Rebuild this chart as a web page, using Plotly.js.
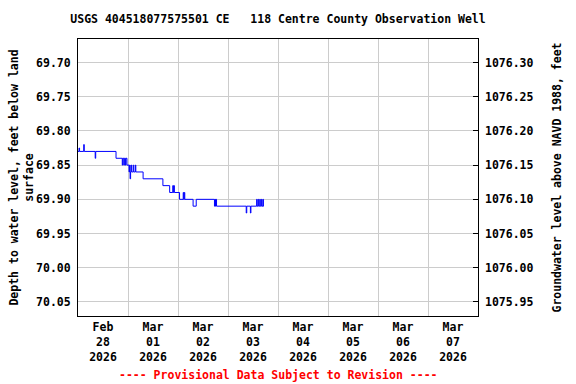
<!DOCTYPE html>
<html>
<head>
<meta charset="utf-8">
<script src="https://cdn.plot.ly/plotly-3.0.1.min.js"></script>
<style>html,body{margin:0;padding:0;background:#fff;}#chart{width:576px;height:384px;}</style>
</head>
<body>
<div id="chart"></div>
<script>
// Readings (time, depth to water level in feet below land surface)
const times = [
  "2026-02-28 00:00","2026-02-28 00:30","2026-02-28 00:45","2026-02-28 02:45","2026-02-28 03:00",
  "2026-02-28 08:15","2026-02-28 08:30","2026-02-28 18:15",
  "2026-02-28 21:15","2026-02-28 21:30","2026-02-28 22:00","2026-02-28 22:15","2026-02-28 22:45","2026-02-28 23:00","2026-02-28 23:30",
  "2026-03-01 00:30","2026-03-01 00:45","2026-03-01 01:00","2026-03-01 01:15","2026-03-01 01:30","2026-03-01 01:45",
  "2026-03-01 02:30","2026-03-01 02:45","2026-03-01 03:30","2026-03-01 03:45",
  "2026-03-01 07:15","2026-03-01 16:45","2026-03-01 20:00",
  "2026-03-01 21:30","2026-03-01 21:45","2026-03-01 22:00","2026-03-01 22:15",
  "2026-03-02 00:45","2026-03-02 02:30","2026-03-02 02:45","2026-03-02 03:00","2026-03-02 03:15",
  "2026-03-02 07:15","2026-03-02 08:45",
  "2026-03-02 17:30","2026-03-02 17:45","2026-03-02 18:00","2026-03-02 18:15","2026-03-02 18:30",
  "2026-03-03 08:45","2026-03-03 09:00","2026-03-03 10:45","2026-03-03 11:00",
  "2026-03-03 13:45","2026-03-03 14:00","2026-03-03 14:30","2026-03-03 14:45","2026-03-03 15:15","2026-03-03 15:30",
  "2026-03-03 16:00","2026-03-03 16:15","2026-03-03 16:45","2026-03-03 17:00","2026-03-03 17:15"
];
const depths = [
  69.83,69.825,69.83,69.82,69.83,
  69.84,69.83,69.84,
  69.85,69.84,69.85,69.84,69.85,69.84,69.85,
  69.86,69.85,69.87,69.86,69.85,69.86,
  69.85,69.86,69.85,69.86,
  69.87,69.88,69.89,
  69.88,69.89,69.88,69.89,
  69.90,69.89,69.90,69.89,69.90,
  69.91,69.90,
  69.91,69.90,69.91,69.90,69.91,
  69.92,69.91,69.92,69.91,
  69.90,69.91,69.90,69.91,69.90,69.91,
  69.90,69.91,69.90,69.91,69.91
];
const landSurfaceDatum = 1146.00; // elevation = datum - depth
const dayTickVals = ["2026-02-28 12:00","2026-03-01 12:00","2026-03-02 12:00","2026-03-03 12:00",
                     "2026-03-04 12:00","2026-03-05 12:00","2026-03-06 12:00","2026-03-07 12:00"];
const dayTickText = ["Feb<br>28<br>2026","Mar<br>01<br>2026","Mar<br>02<br>2026","Mar<br>03<br>2026",
                     "Mar<br>04<br>2026","Mar<br>05<br>2026","Mar<br>06<br>2026","Mar<br>07<br>2026"];
const depthTicks = [69.70,69.75,69.80,69.85,69.90,69.95,70.00,70.05];
const elevTicks = [1076.30,1076.25,1076.20,1076.15,1076.10,1076.05,1076.00,1075.95];

const depthRange = [70.0705, 69.6657];
const F = "'DejaVu Sans Mono', monospace";
const fnt = {family: F, size: 11.5, color: '#000', weight: 'bold'};

const traces = [
  {x: times, y: depths, type: 'scatter', mode: 'lines', line: {shape: 'hv', color: '#0000ff', width: 1}, hoverinfo: 'skip', showlegend: false},
  {x: times, y: depths.map(d => landSurfaceDatum - d), yaxis: 'y2', type: 'scatter', mode: 'lines',
   line: {width: 0, color: 'rgba(0,0,0,0)'}, hoverinfo: 'skip', showlegend: false}
];

const layout = {
  width: 576, height: 384,
  margin: {l: 78, r: 97.5, t: 39, b: 68, pad: 0},
  paper_bgcolor: '#fff', plot_bgcolor: '#fff',
  font: fnt,
  title: {text: 'USGS 404518077575501 CE   118 Centre County Observation Well', font: fnt,
          x: 0.5, xref: 'paper', y: 0.95, yref: 'container', xanchor: 'center', yanchor: 'middle'},
  xaxis: {
    type: 'date', range: ['2026-02-28 00:00', '2026-03-08 00:00'],
    tickmode: 'array', tickvals: dayTickVals, ticktext: dayTickText,
    showgrid: false, ticks: '', tickfont: fnt, zeroline: false,
    showline: true, mirror: true, linecolor: '#000', linewidth: 1,
    minor: {dtick: 86400000, tick0: '2026-02-28 00:00', showgrid: true, gridcolor: '#cccccc', gridwidth: 1, ticks: ''}
  },
  yaxis: {
    range: depthRange, tickmode: 'array', tickvals: depthTicks, ticktext: depthTicks.map(v => v.toFixed(2)),
    showgrid: true, gridcolor: '#cccccc', gridwidth: 1, ticks: '', zeroline: false,
    showline: true, mirror: true, linecolor: '#000', linewidth: 1, tickfont: fnt, ticklabelstandoff: 4,
    title: {text: 'Depth to water level, feet below land<br>surface', font: fnt, standoff: 0}
  },
  yaxis2: {
    overlaying: 'y', side: 'right', range: depthRange.map(d => landSurfaceDatum - d),
    tickmode: 'array', tickvals: elevTicks, ticktext: elevTicks.map(v => v.toFixed(2)),
    showgrid: false, zeroline: false, ticks: 'inside', ticklen: 5, tickcolor: '#000', tickwidth: 1,
    showline: false, tickfont: fnt, ticklabelstandoff: 6,
    title: {text: 'Groundwater level above NAVD 1988, feet', font: fnt, standoff: 20}
  },
  annotations: [{
    text: '---- Provisional Data Subject to Revision ----', showarrow: false,
    xref: 'paper', yref: 'paper', x: 0.5, y: -0.2, yanchor: 'middle', xanchor: 'center',
    yshift: 0, font: {family: F, size: 11.5, color: '#ff0000', weight: 'bold'}
  }]
};
// place annotation at pixel y≈375
layout.annotations[0].y = -(375 - 316) / (384 - 39 - 68);

Plotly.newPlot('chart', traces, layout, {displayModeBar: false, staticPlot: true});
</script>
</body>
</html>
